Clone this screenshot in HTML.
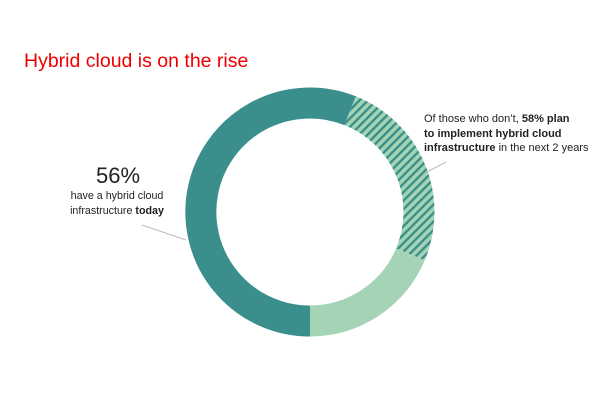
<!DOCTYPE html>
<html><head><meta charset="utf-8"><style>
body{margin:0;background:#fff;width:600px;height:420px;overflow:hidden}
svg{display:block;font-family:"Liberation Sans",sans-serif}
</style></head><body>
<svg width="600" height="420" viewBox="0 0 600 420">
<defs>
<pattern id="h" patternUnits="userSpaceOnUse" width="6" height="6" patternTransform="rotate(45)">
<rect width="6" height="6" fill="#a5d3b5"/><rect width="2.4" height="6" fill="#3a8f8c"/>
</pattern>
</defs>
<text x="24" y="67" font-size="19.5" fill="#ee0000">Hybrid cloud is on the rise</text>
<g fill="none" stroke-width="31">
<path d="M310 321 A109 109 0 1 1 350.1 110.7" stroke="#3a8f8c"/>
<path d="M350.1 110.7 A109 109 0 0 1 410.4 254.4" stroke="url(#h)"/>
<path d="M410.4 254.4 A109 109 0 0 1 310 321" stroke="#a5d3b5"/>
</g>
<line x1="142" y1="225" x2="186" y2="240" stroke="#bbb" stroke-width="1"/>
<line x1="425" y1="173" x2="446" y2="162" stroke="#bbb" stroke-width="1"/>
<g fill="#222" text-anchor="middle">
<text x="118" y="183" font-size="22">56%</text>
<text x="117" y="199" font-size="10.7">have a hybrid cloud</text>
<text x="117" y="214" font-size="10.7">infrastructure <tspan font-weight="bold">today</tspan></text>
</g>
<g fill="#222" font-size="11">
<text x="424" y="122">Of those who don’t, <tspan font-weight="bold">58% plan</tspan></text>
<text x="424" y="137" font-weight="bold">to implement hybrid cloud</text>
<text x="424" y="151"><tspan font-weight="bold">infrastructure</tspan> in the next 2 years</text>
</g>
</svg>
</body></html>
